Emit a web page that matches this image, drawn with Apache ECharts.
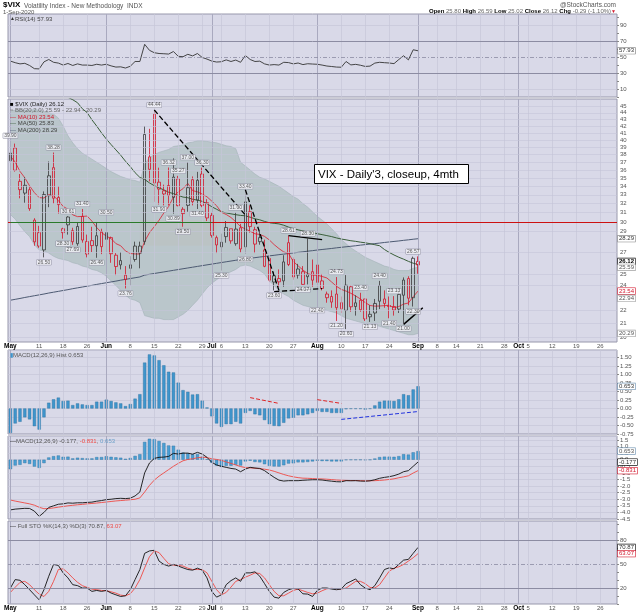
<!DOCTYPE html>
<html>
<head>
<meta charset="utf-8">
<title>$VIX Daily</title>
<script src="https://cdn.jsdelivr.net/npm/echarts@6/dist/echarts.min.js"></script>
<style>
html,body{margin:0;padding:0;background:#fff;}
#chart{width:640px;height:614px;}
</style>
</head>
<body>
<div id="chart"></div>
<script>
// trading days on the axis, 1 May - 29 Oct 2020 (data ends 1 Sep)
const days = [
'05-01','05-04','05-05','05-06','05-07','05-08','05-11','05-12','05-13','05-14','05-15','05-18','05-19','05-20','05-21','05-22','05-26','05-27','05-28','05-29',
'06-01','06-02','06-03','06-04','06-05','06-08','06-09','06-10','06-11','06-12','06-15','06-16','06-17','06-18','06-19','06-22','06-23','06-24','06-25','06-26','06-29','06-30',
'07-01','07-02','07-06','07-07','07-08','07-09','07-10','07-13','07-14','07-15','07-16','07-17','07-20','07-21','07-22','07-23','07-24','07-27','07-28','07-29','07-30','07-31',
'08-03','08-04','08-05','08-06','08-07','08-10','08-11','08-12','08-13','08-14','08-17','08-18','08-19','08-20','08-21','08-24','08-25','08-26','08-27','08-28','08-31',
'09-01','09-02','09-03','09-04','09-08','09-09','09-10','09-11','09-14','09-15','09-16','09-17','09-18','09-21','09-22','09-23','09-24','09-25','09-28','09-29','09-30',
'10-01','10-02','10-05','10-06','10-07','10-08','10-09','10-12','10-13','10-14','10-15','10-16','10-19','10-20','10-21','10-22','10-23','10-26','10-27','10-28','10-29'];
const tickDays = ['05-01','05-11','05-18','05-26','06-01','06-08','06-15','06-22','06-29','07-01','07-06','07-13','07-20','07-27',
  '08-03','08-10','08-17','08-24','09-01','09-08','09-14','09-21','09-28','10-01','10-05','10-12','10-19','10-26'];
const monthDays = {'05-01':'May','06-01':'Jun','07-01':'Jul','08-03':'Aug','09-01':'Sep','10-01':'Oct'};

const prevClose = 34.15;
const opens = [38.20,38.90,34.60,33.20,33.60,30.20,28.90,27.20,32.90,36.30,
  32.70,28.90,29.70,29.10,27.80,30.60,26.80,28.10,27.60,29.00,
  28.90,28.40,26.70,26.20,24.90,25.50,26.30,26.90,28.00,37.70,
  43.80,34.50,33.10,34.10,32.70,34.90,30.90,31.80,34.80,32.40,
  35.50,32.10,30.70,28.40,27.50,28.50,29.30,27.80,29.40,27.50,
  31.10,29.20,28.40,27.20,26.40,24.30,24.60,24.40,27.90,26.30,
  24.90,25.20,24.95,25.20,25.80,24.40,23.30,23.10,23.30,22.60,
  22.00,23.90,22.30,22.80,22.90,21.70,21.80,24.00,22.90,22.30,
  22.30,22.10,23.20,24.60,23.00,25.80];
const highs = [39.90,39.50,35.50,35.10,33.90,30.40,29.60,33.40,37.10,38.28,
  34.00,29.40,30.61,29.40,30.00,31.40,28.70,29.50,30.00,29.30,
  30.50,28.50,26.90,27.00,25.70,26.60,28.00,28.00,42.00,41.60,
  44.44,36.30,34.20,36.32,37.50,35.27,31.60,37.00,35.20,35.77,
  36.30,32.50,31.00,28.60,28.80,30.10,29.30,31.00,29.80,33.40,
  31.80,29.50,29.00,28.20,26.50,25.20,25.40,26.70,28.61,26.50,
  25.90,25.70,28.30,26.30,26.00,25.00,23.50,23.60,24.73,23.10,
  24.90,24.00,23.20,23.40,22.90,22.40,22.90,24.40,23.60,23.10,
  23.13,23.50,24.70,24.80,26.57,26.59];
const lows = [35.50,35.80,32.60,32.10,31.20,27.60,27.40,26.50,31.60,32.00,
  30.90,28.30,28.70,27.69,27.60,27.90,26.50,27.00,26.46,26.80,
  27.30,26.00,24.90,25.40,23.76,24.00,26.10,25.50,27.70,34.60,
  32.20,31.90,31.80,31.80,30.89,31.70,29.50,31.10,31.80,31.40,
  31.60,30.10,28.40,26.90,25.30,27.90,27.80,27.60,26.95,26.80,
  28.90,26.90,27.70,25.60,24.30,23.60,23.90,23.90,25.70,24.50,
  24.60,24.07,24.10,23.90,22.40,23.60,22.60,22.20,21.20,21.80,
  20.60,21.90,21.60,21.90,21.20,21.13,21.20,22.10,22.20,21.40,
  21.60,21.80,21.00,22.40,22.30,25.02];
const closes = [37.19,35.97,33.61,34.12,31.44,27.98,27.57,33.04,35.28,32.61,
  31.89,29.30,30.53,27.99,29.53,28.16,28.01,27.62,28.59,27.51,
  28.23,26.84,25.66,25.81,24.52,25.81,27.57,27.57,40.79,36.09,
  34.40,33.67,33.47,32.94,35.12,31.77,31.37,33.84,32.22,34.73,
  31.78,30.43,28.62,27.68,27.94,29.43,28.08,29.26,27.29,32.19,
  29.52,27.76,28.00,25.68,24.46,24.84,24.32,26.08,25.84,24.74,
  25.44,24.10,24.76,24.46,24.28,23.76,23.00,22.65,22.21,22.13,
  24.03,22.28,22.59,22.05,21.35,21.51,22.54,22.72,22.54,22.37,
  22.03,23.27,24.47,22.96,26.41,26.12];
const ma10 = [37.80,37.01,35.83,35.04,34.05,33.26,32.68,32.63,33.04,32.88,
  32.35,31.68,31.38,30.76,30.57,30.59,30.63,30.09,29.42,28.91,
  28.55,28.30,27.81,27.60,27.10,26.86,26.82,26.81,28.03,28.89,
  29.51,30.19,30.97,31.68,32.74,33.34,33.72,34.35,33.49,33.35,
  33.09,32.77,32.28,31.76,31.04,30.80,30.48,30.02,29.52,29.27,
  29.04,28.78,28.72,28.52,28.17,27.71,27.33,27.01,26.87,26.12,
  25.72,25.35,25.03,24.90,24.89,24.78,24.65,24.30,23.94,23.68,
  23.54,23.36,23.14,22.90,22.61,22.38,22.33,22.34,22.37,22.40,
  22.20,22.30,22.49,22.58,23.08,23.54];
const ma50 = [47.09,47.47,47.64,47.77,47.85,47.62,47.37,47.36,47.33,47.35,
  47.19,46.94,46.46,46.07,45.59,44.64,44.04,42.94,42.00,41.02,
  40.14,39.36,38.64,37.92,37.13,36.43,35.67,35.08,34.83,34.41,
  34.08,33.81,33.58,33.30,33.14,32.94,32.74,32.67,32.49,32.39,
  32.26,31.99,31.65,31.37,31.10,30.97,30.87,30.78,30.70,30.66,
  30.51,30.34,30.23,30.06,29.92,29.86,29.80,29.66,29.47,29.31,
  29.18,29.08,28.96,28.89,28.79,28.70,28.60,28.50,28.37,28.26,
  28.18,28.09,28.03,27.95,27.89,27.80,27.70,27.60,27.24,26.96,
  26.72,26.51,26.33,26.13,25.96,25.84];
const ma200 = [22.80,22.87,22.94,23.02,23.09,23.16,23.23,23.30,23.38,23.45,
  23.52,23.59,23.66,23.74,23.81,23.88,23.95,24.02,24.10,24.17,
  24.24,24.31,24.38,24.46,24.53,24.60,24.67,24.74,24.90,24.97,
  25.04,25.11,25.18,25.25,25.32,25.39,25.46,25.53,25.60,25.67,
  25.74,25.81,25.88,25.95,26.02,26.09,26.16,26.23,26.30,26.37,
  26.42,26.47,26.53,26.58,26.64,26.69,26.75,26.80,26.86,26.91,
  26.97,27.02,27.08,27.13,27.19,27.24,27.29,27.34,27.40,27.45,
  27.50,27.55,27.60,27.66,27.71,27.76,27.81,27.86,27.92,27.97,
  28.02,28.07,28.13,28.18,28.24,28.29];
const bbUpper = [44.3,44.4,44.4,44.4,44.4,44.5,44.4,44.2,44.0,43.8,
  43.2,42.0,40.6,39.6,38.8,38.2,37.8,37.4,37.0,36.6,
  36.2,35.8,35.5,35.2,35.0,34.8,34.7,34.5,36.8,37.6,
  38.0,38.3,38.5,38.7,39.1,39.2,39.3,39.6,39.7,39.9,
  39.9,39.8,39.7,39.6,39.4,39.2,39.1,38.8,37.0,36.5,
  36.0,35.5,35.1,34.9,34.6,34.3,34.0,33.6,33.2,32.8,
  32.5,32.0,31.6,31.1,30.6,30.2,29.8,29.3,28.8,28.2,
  27.8,27.4,27.1,26.8,26.5,26.3,26.1,25.9,25.7,25.6,
  25.4,25.3,25.3,25.3,25.5,25.59];
const bbLower = [30.8,30.3,29.6,29.0,28.5,27.7,27.2,27.1,26.9,26.6,
  26.4,26.3,26.2,26.0,25.9,25.7,25.6,25.4,25.3,25.1,
  24.8,24.4,24.0,23.6,23.2,22.9,22.8,22.6,21.6,21.5,
  21.4,21.4,21.3,21.3,21.3,21.5,21.7,22.0,22.4,22.8,
  23.3,23.8,24.2,24.5,24.8,25.0,25.2,25.4,25.7,25.8,
  25.7,25.5,25.3,25.0,24.4,24.0,23.6,23.3,23.1,22.8,
  22.6,22.4,22.3,22.2,22.2,22.1,22.0,21.9,21.8,21.6,
  21.4,21.3,21.2,21.1,21.0,20.9,20.9,20.8,20.7,20.6,
  20.5,20.4,20.3,20.2,20.2,20.29];
const rsi = [45.0,43.0,41.5,42.2,39.5,35.5,35.2,44.0,47.0,43.5,
  42.5,40.0,42.0,39.5,41.5,40.0,40.0,39.5,41.0,40.0,
  41.0,39.0,37.5,37.8,36.3,38.5,44.5,44.5,66.0,58.5,
  55.5,54.5,54.2,53.8,57.0,51.0,50.5,53.5,51.5,54.5,
  49.5,47.5,45.0,43.8,44.2,46.5,44.5,46.3,43.5,52.0,
  47.0,44.5,44.9,41.5,40.0,40.6,40.0,43.5,43.1,41.5,
  42.6,40.6,41.7,41.3,41.0,40.0,38.8,38.2,37.5,37.3,
  44.5,40.2,40.9,39.8,38.3,38.7,42.5,43.5,43.0,42.6,
  41.8,47.0,51.7,46.5,59.2,57.93];
const macdHist = [-0.72,-0.44,-0.39,-0.26,-0.32,-0.52,-0.62,-0.26,0.17,0.27,
  0.32,0.22,0.23,0.10,0.15,0.12,0.10,0.10,0.20,0.20,
  0.26,0.22,0.18,0.15,0.07,0.13,0.29,0.42,1.35,1.59,
  1.56,1.42,1.27,1.08,1.06,0.76,0.54,0.49,0.41,0.42,
  0.23,0.03,-0.23,-0.44,-0.54,-0.46,-0.46,-0.39,-0.44,-0.13,
  -0.07,-0.17,-0.20,-0.34,-0.46,-0.51,-0.52,-0.42,-0.29,-0.27,
  -0.20,-0.20,-0.17,-0.13,-0.07,-0.10,-0.10,-0.13,-0.13,-0.13,
  -0.02,-0.01,-0.01,-0.01,-0.03,-0.01,0.09,0.20,0.23,0.23,
  0.22,0.27,0.42,0.39,0.56,0.653];
const macdLine = [-3.81,-3.75,-3.72,-3.69,-3.70,-3.90,-4.30,-4.00,-3.62,-3.50,
  -3.38,-3.35,-3.28,-3.30,-3.27,-3.27,-3.24,-3.22,-3.15,-3.10,
  -3.03,-3.00,-2.95,-2.93,-2.95,-2.92,-2.75,-2.45,-1.00,-0.25,
  0.10,0.18,0.20,0.25,0.48,0.43,0.50,0.50,0.42,0.56,
  0.43,0.18,-0.20,-0.40,-0.50,-0.58,-0.66,-0.71,-0.91,-0.71,
  -0.58,-0.63,-0.66,-0.83,-1.09,-1.34,-1.55,-1.62,-1.59,-1.59,
  -1.59,-1.56,-1.54,-1.52,-1.52,-1.54,-1.59,-1.63,-1.67,-1.68,
  -1.59,-1.60,-1.59,-1.62,-1.63,-1.60,-1.52,-1.41,-1.34,-1.29,
  -1.21,-1.09,-0.91,-0.83,-0.50,-0.177];
const macdSignal = [-3.06,-3.14,-3.21,-3.28,-3.35,-3.45,-3.61,-3.72,-3.70,-3.66,
  -3.60,-3.55,-3.50,-3.46,-3.42,-3.39,-3.35,-3.32,-3.29,-3.25,
  -3.21,-3.17,-3.13,-3.10,-3.07,-3.04,-3.00,-2.90,-2.45,-1.95,
  -1.55,-1.25,-1.00,-0.75,-0.50,-0.28,-0.08,0.02,0.07,0.15,
  0.19,0.16,0.07,0.02,-0.05,-0.17,-0.28,-0.40,-0.52,-0.60,
  -0.62,-0.65,-0.68,-0.72,-0.78,-0.88,-1.00,-1.12,-1.22,-1.30,
  -1.36,-1.40,-1.41,-1.43,-1.45,-1.46,-1.48,-1.51,-1.54,-1.56,
  -1.57,-1.58,-1.58,-1.59,-1.60,-1.60,-1.59,-1.57,-1.54,-1.50,
  -1.45,-1.37,-1.30,-1.22,-1.01,-0.831];
const stoK = [20.0,30.6,29.7,24.2,17.9,11.5,5.2,17.9,34.8,49.6,
  48.3,39.0,32.7,24.2,23.0,20.0,20.0,15.8,17.0,15.8,
  17.0,13.7,11.5,9.4,10.3,17.9,30.6,43.2,63.5,66.5,
  67.3,53.8,49.6,47.5,49.6,47.5,45.3,43.2,42.4,44.9,
  42.4,32.7,15.8,8.6,11.5,24.2,29.3,32.7,28.4,39.0,
  39.0,40.3,34.8,25.5,15.8,8.6,7.3,14.5,17.9,19.6,
  18.7,12.8,12.4,9.4,17.0,20.0,20.0,18.7,17.9,18.7,
  25.5,28.4,31.4,24.2,20.0,17.9,23.0,32.7,43.2,45.3,
  44.1,49.6,55.0,55.9,63.5,70.87];
const stoD = [14.5,21.0,27.0,28.4,24.2,17.9,12.4,9.4,15.8,28.4,
  43.2,44.1,39.0,32.7,27.2,23.0,20.8,18.7,17.9,17.0,
  16.6,15.3,13.6,11.1,10.3,12.8,20.0,30.6,45.3,59.3,
  66.5,64.4,57.2,50.4,48.7,48.3,47.5,44.9,43.2,43.2,
  43.2,39.0,28.4,17.9,11.5,14.5,21.2,28.4,30.6,33.6,
  36.1,39.0,38.2,32.7,24.2,15.8,10.3,10.3,13.6,17.0,
  18.7,16.6,14.5,12.8,13.6,16.6,19.1,19.6,19.1,18.7,
  20.0,24.2,28.4,28.4,25.5,20.8,20.0,24.2,32.7,41.1,
  44.9,46.6,49.6,53.8,58.0,63.07];
// candles that carry a price tag above (high) or below (low)
const hiLabelIdx = [0,9,12,15,20,30,33,35,37,40,47,49,58,62,68,73,77,80,84];
const loLabelIdx = [7,11,13,18,24,31,34,36,39,44,49,55,61,64,68,70,75,79,82,84];
const priceTicks = [20,21,22,24,25,27,29,30,31,32,33,34,35,36,37,38,39,40,41,42,43,44,45];

const FONT = 'Liberation Sans, Arial, sans-serif';
const RED = '#d3152b', BLK = '#111', HOLLOW = '#3a3a3a';
const BG = '#d9d9e8', GRIDC = '#c5c5d8', FRAME = '#9898ac', DARK = '#8c8ca2';
const CLEAR = 'rgba(0,0,0,0)';

const chart = echarts.init(document.getElementById('chart'));
const tickSet = new Set(tickDays);

const panels = [
  {top: 14, height: 83}, {top: 99, height: 243}, {top: 350, height: 84},
  {top: 436, height: 83}, {top: 521, height: 83}
];
const grid = panels.map(p => Object.assign({left: 8, right: 23, show: true, backgroundColor: BG,
  borderColor: FRAME, borderWidth: 1}, p));

function dayLabel(v) {
  return monthDays[v] ? '{m|' + monthDays[v] + '}' : '{d|' + (+v.slice(3)) + '}';
}
const xAxis = grid.map((g, k) => ({
  type: 'category', gridIndex: k, data: days, boundaryGap: true,
  axisLine: {show: false}, axisTick: {show: false}, splitLine: {show: false},
  axisLabel: {
    show: k === 1 || k === 4, interval: (i, v) => tickSet.has(v), formatter: dayLabel, margin: 1,
    rich: {
      m: {fontSize: 6.5, fontWeight: 'bold', color: '#000', fontFamily: FONT},
      d: {fontSize: 6, color: '#555', fontFamily: FONT}
    }
  }
}));

const axLabel = {fontSize: 6, color: '#555', fontFamily: FONT, margin: 3};
const axTick = {show: true, length: 2, lineStyle: {color: '#888'}};
const yAxis = [
  {type: 'value', gridIndex: 0, position: 'right', min: 0, max: 104, interval: 10,
    axisLine: {show: false}, axisTick: axTick, splitLine: {show: false},
    axisLabel: Object.assign({formatter: v => [10, 30, 50, 70, 90].includes(v) ? String(v) : '', showMaxLabel: false}, axLabel)},
  {type: 'log', gridIndex: 1, position: 'right', min: 19.69, max: 46.19,
    axisLine: {show: false}, axisTick: {show: false}, splitLine: {show: false}, axisLabel: {show: false}},
  {type: 'value', gridIndex: 2, position: 'right', min: -0.75, max: 1.72, interval: 0.25,
    axisLine: {show: false}, axisTick: axTick, splitLine: {show: true, lineStyle: {color: GRIDC, width: 0.7}},
    axisLabel: Object.assign({formatter: v => v.toFixed(2), showMaxLabel: false}, axLabel)},
  {type: 'value', gridIndex: 3, position: 'right', min: -4.5, max: 1.8, interval: 0.5,
    axisLine: {show: false}, axisTick: axTick, splitLine: {show: true, lineStyle: {color: GRIDC, width: 0.7}},
    axisLabel: Object.assign({formatter: v => v.toFixed(1), showMaxLabel: false}, axLabel)},
  {type: 'value', gridIndex: 4, position: 'right', min: 0, max: 104, interval: 10,
    axisLine: {show: false}, axisTick: axTick, splitLine: {show: false},
    axisLabel: Object.assign({formatter: v => [20, 50, 80].includes(v) ? String(v) : '', showMaxLabel: false}, axLabel)}
];

// helpers for reference lines
function hl(v, color, width, type) {
  return {yAxis: v, lineStyle: {color: color, width: width, type: type || 'solid'}};
}
// boxed value at the right edge of a panel
function tag(v, text, border, color, bold) {
  return {yAxis: v, lineStyle: {color: CLEAR, width: 0.5},
    label: {show: true, position: 'end', formatter: text, fontSize: 6, fontFamily: FONT,
      color: color || '#333', fontWeight: bold ? 'bold' : 'normal', backgroundColor: '#fff',
      borderColor: border || '#888', borderWidth: 0.6, padding: [0, 1, 0, 1], distance: 1}};
}
const vlines = tickDays.map(d => ({xAxis: d,
  lineStyle: {color: monthDays[d] ? '#a9a9bf' : GRIDC, width: monthDays[d] ? 1 : 0.7, type: 'solid'}}));

function frame(k, extra) {
  return {type: 'line', xAxisIndex: k, yAxisIndex: k, data: [], silent: true, z: 1,
    markLine: {silent: true, animation: false, symbol: ['none', 'none'], label: {show: false},
      data: vlines.concat(extra)}};
}
function tags(k, list) {
  return {type: 'line', xAxisIndex: k, yAxisIndex: k, data: [], silent: true, z: 20,
    markLine: {silent: true, animation: false, symbol: ['none', 'none'], label: {show: false}, data: list}};
}

const mainTicks = priceTicks.map(v => ({yAxis: v, lineStyle: {color: GRIDC, width: 0.6, type: 'solid'},
  label: {show: true, position: 'end', formatter: String(v), fontSize: 6, color: '#555', fontFamily: FONT, distance: 3}}));

const candleData = closes.map((c, i) => {
  const prev = i ? closes[i - 1] : prevClose;
  const down = c < prev;
  const col = down ? RED : BLK;
  return {value: [opens[i], c, lows[i], highs[i]],
    itemStyle: {color: CLEAR, color0: col, borderColor: down ? RED : HOLLOW, borderColor0: col, borderWidth: 0.8}};
});

const tagData = hiLabelIdx.map(i => ({value: [i, highs[i]], label: {position: 'top', formatter: highs[i].toFixed(2)}}))
  .concat(loLabelIdx.map(i => ({value: [i, lows[i]], label: {position: 'bottom', formatter: lows[i].toFixed(2)}})));

function seg(a, b, color, width, type) {
  const ls = {color: color, width: width, type: type};
  return [{coord: a, lineStyle: ls}, {coord: b, lineStyle: ls}];
}

const lineBase = {type: 'line', symbol: 'none', showSymbol: false, silent: true, z: 3};

const series = [
  frame(0, [hl(10, GRIDC, 0.7), hl(90, GRIDC, 0.7), hl(30, DARK, 1), hl(70, DARK, 1), hl(50, DARK, 0.8, [4, 2, 1, 2])]),
  frame(1, mainTicks),
  frame(2, []),
  frame(3, []),
  frame(4, [hl(80, DARK, 1), hl(20, DARK, 1), hl(50, DARK, 0.8, [4, 2, 1, 2])]),

  Object.assign({}, lineBase, {xAxisIndex: 0, yAxisIndex: 0, data: rsi, lineStyle: {color: '#333', width: 0.9}}),

  Object.assign({}, lineBase, {xAxisIndex: 1, yAxisIndex: 1, data: bbLower, stack: 'bb', z: 2,
    lineStyle: {color: '#a3b1b7', width: 0.6}}),
  Object.assign({}, lineBase, {xAxisIndex: 1, yAxisIndex: 1, stack: 'bb', z: 2,
    data: bbUpper.map((u, i) => +(u - bbLower[i]).toFixed(2)),
    lineStyle: {color: '#a3b1b7', width: 0.6}, areaStyle: {color: '#b6c3c8', opacity: 0.9},
    markArea: {silent: true, itemStyle: {color: 'rgba(240,176,118,0.6)'},
      data: [[{coord: ['06-10', 30.2]}, {coord: ['07-02', 27.6]}]]}}),
  Object.assign({}, lineBase, {xAxisIndex: 1, yAxisIndex: 1, data: ma200, lineStyle: {color: '#4d5a72', width: 1}}),
  Object.assign({}, lineBase, {xAxisIndex: 1, yAxisIndex: 1, data: ma50, lineStyle: {color: '#3a5e3a', width: 1}}),
  Object.assign({}, lineBase, {xAxisIndex: 1, yAxisIndex: 1, data: ma10, lineStyle: {color: '#d9303f', width: 0.9}}),
  {type: 'candlestick', xAxisIndex: 1, yAxisIndex: 1, data: candleData, barWidth: 3, z: 4, silent: true},
  {type: 'scatter', xAxisIndex: 1, yAxisIndex: 1, data: tagData, symbolSize: 1, z: 5, silent: true,
    itemStyle: {color: CLEAR},
    label: {show: true, fontSize: 5, color: '#333', fontFamily: FONT, backgroundColor: '#f3f3f7',
      borderColor: '#8a8a9c', borderWidth: 0.5, padding: [0, 1, 0, 1], distance: 2}},
  {type: 'line', xAxisIndex: 1, yAxisIndex: 1, data: [], silent: true, z: 6,
    markLine: {silent: true, animation: false, symbol: ['none', 'none'], label: {show: false},
      data: [
        {yAxis: 30, lineStyle: {color: '#cc1111', width: 1.2, type: 'solid'}},
        seg(['05-01', 30], ['07-01', 30], '#2a7a2a', 1.2, 'solid'),
        seg(['06-15', 44.44], ['07-13', 30.75], '#000', 1.3, 'dashed'),
        seg(['07-13', 33.6], ['07-22', 23.6], '#000', 1.3, 'dashed'),
        seg(['07-21', 23.5], ['08-04', 23.75], '#000', 1.3, 'dashed'),
        seg(['07-24', 28.6], ['08-04', 28.2], '#000', 1.2, 'solid'),
        seg(['08-27', 20.95], ['09-02', 22.2], '#000', 1.5, 'solid')
      ]}},

  {type: 'bar', xAxisIndex: 2, yAxisIndex: 2, data: macdHist, barWidth: 3.2, z: 2, silent: true,
    itemStyle: {color: '#3f95cc', borderColor: '#2c6f9c', borderWidth: 0.4},
    markLine: {silent: true, animation: false, symbol: ['none', 'none'], label: {show: false},
      data: [
        seg(['07-14', 0.32], ['07-22', 0.15], '#e02424', 1, 'dashed'),
        seg(['08-03', 0.26], ['08-10', 0.15], '#e02424', 1, 'dashed'),
        seg(['07-22', -0.80], ['08-03', -0.26], '#2233dd', 1, 'dashed'),
        seg(['08-10', -0.32], ['09-01', -0.09], '#2233dd', 1, 'dashed')
      ]}},

  {type: 'bar', xAxisIndex: 3, yAxisIndex: 3, data: macdHist, barWidth: 3.2, z: 2, silent: true,
    itemStyle: {color: '#4a9fd4', borderColor: '#2c6f9c', borderWidth: 0.4}},
  Object.assign({}, lineBase, {xAxisIndex: 3, yAxisIndex: 3, data: macdSignal, lineStyle: {color: '#ee4a44', width: 0.9}}),
  Object.assign({}, lineBase, {xAxisIndex: 3, yAxisIndex: 3, data: macdLine, lineStyle: {color: '#111', width: 0.9}}),

  Object.assign({}, lineBase, {xAxisIndex: 4, yAxisIndex: 4, data: stoD, lineStyle: {color: '#ee4a44', width: 0.9}}),
  Object.assign({}, lineBase, {xAxisIndex: 4, yAxisIndex: 4, data: stoK, lineStyle: {color: '#111', width: 0.9}}),

  // right-edge value boxes
  tags(0, [tag(57.93, '57.93', '#777')]),
  tags(1, [tag(28.29, '28.29', '#888'), tag(26.12, '26.12', '#000', '#000', true),
    tag(25.59, '25.59', '#999', '#555'), tag(23.54, '23.54', RED, RED), tag(22.94, '22.94', '#999', '#555'),
    tag(20.29, '20.29', '#999', '#555')]),
  tags(2, [tag(0.653, '0.653', '#6a8fb0')]),
  tags(3, [tag(0.653, '0.653', '#6a8fb0', '#555'), tag(-0.177, '-0.177', '#000'), tag(-0.831, '-0.831', RED, RED)]),
  tags(4, [tag(70.87, '70.87', '#000'), tag(63.07, '63.07', RED, RED)])
];

function t(x, y, text, font, fill, extra) {
  return {type: 'text', x: x, y: y, silent: true, z: 100,
    style: Object.assign({text: text, font: font || ('6px ' + FONT), fill: fill || '#444'}, extra || {})};
}
const f6 = '6px ' + FONT;
function rich(obj) {
  const r = {};
  Object.keys(obj).forEach(k => { r[k] = {font: obj[k][0], fill: obj[k][1]}; });
  return r;
}

const graphic = [
  t(3, 1, '$VIX', 'bold 8px ' + FONT, '#000'),
  t(24, 2.5, 'Volatility Index - New Methodology  INDX', '6.5px ' + FONT, '#555'),
  t(3, 9.5, '1-Sep-2020', '6px ' + FONT, '#555'),
  t(616, 1.5, '@StockCharts.com', '6.5px ' + FONT, '#555', {align: 'right'}),
  t(616, 8.5, '{b|Open} {v|25.80} {b|High} {v|26.59} {b|Low} {v|25.02} {b|Close} {v|26.12} {b|Chg} {r|-0.29 (-1.10%)}{a|\u25BC}',
    f6, '#555', {align: 'right', rich: rich({b: ['bold 6px ' + FONT, '#000'], v: [f6, '#666'], r: [f6, '#666'], a: ['5px ' + FONT, RED]})}),

  t(10, 16, '{i|\u25B2}RSI(14) 57.93', f6, '#444', {rich: rich({i: ['5px ' + FONT, '#333']})}),

  t(10, 101, '{i|\u25A0} $VIX (Daily) 26.12', f6, '#222', {rich: rich({i: ['6px ' + FONT, '#000']})}),
  t(10, 107.5, '{i|\u2248} BB(20,2.0) 25.59 - 22.94 - 20.29', f6, '#666', {rich: rich({i: [f6, '#888']})}),
  t(10, 114, '{i|\u2014} MA(10) 23.54', f6, RED, {rich: rich({i: [f6, RED]})}),
  t(10, 120.5, '{i|\u2014} MA(50) 25.83', f6, '#444', {rich: rich({i: [f6, '#3a5e3a']})}),
  t(10, 127, '{i|\u2014} MA(200) 28.29', f6, '#444', {rich: rich({i: [f6, '#4d5a72']})}),

  t(10, 352, '{i|\u25AE}MACD(12,26,9) Hist 0.653', f6, '#555', {rich: rich({i: [f6, '#3f95cc']})}),
  t(10, 438, '{i|\u2014}MACD(12,26,9) -0.177, {r|-0.831}, {b|0.653}', f6, '#555',
    {rich: rich({i: [f6, '#111'], r: [f6, '#ee4a44'], b: [f6, '#6a9fc8']})}),
  t(10, 523, '{i|\u2014} Full STO %K(14,3) %D(3) 70.87, {r|63.07}', f6, '#555',
    {rich: rich({i: [f6, '#111'], r: [f6, '#ee4a44']})}),

  {type: 'rect', silent: true, z: 100, shape: {x: 314.5, y: 164.5, width: 154, height: 19},
    style: {fill: '#fff', stroke: '#000', lineWidth: 1}},
  t(318, 168.5, "VIX - Daily'3, closeup, 4mth", '11.5px ' + FONT, '#000')
];

chart.setOption({
  animation: false,
  backgroundColor: '#fff',
  textStyle: {fontFamily: FONT},
  grid: grid,
  xAxis: xAxis,
  yAxis: yAxis,
  series: series,
  graphic: graphic
});
window.onresize = function () { chart.resize(); };
</script>
</body>
</html>
